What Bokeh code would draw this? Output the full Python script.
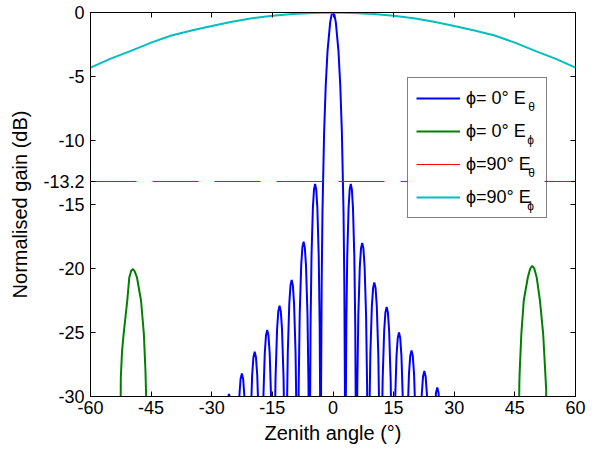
from bokeh.plotting import figure
from bokeh.models import (FixedTicker, LinearAxis, Legend, LegendItem, Label,
                          BoxAnnotation, CustomJSTickFormatter)
from bokeh.embed import file_html
from bokeh.resources import INLINE

NaN = float("nan")

# ---------------- data ----------------
x_ticks = [-60, -45, -30, -15, 0, 15, 30, 45, 60]
y_ticks = [-30, -25, -20, -15, -13.2, -10, -5, 0]

# phi = 0 deg, E_theta (blue)
blue_angle = [
    -27.3, -27.174, -27.017, -26.749, -26.355, -26.04, -25.725, -25.41, -25.095, -24.701, -24.434, -24.276,
    -24.15, -24.022, -23.862, -23.59, -23.19, -22.87, -22.55, -22.23, -21.91, -21.51, -21.238, -21.078,
    -20.95, -20.824, -20.667, -20.399, -20.005, -19.69, -19.375, -19.06, -18.745, -18.351, -18.084, -17.926,
    -17.8, -17.678, -17.526, -17.266, -16.885, -16.58, -16.275, -15.97, -15.665, -15.284, -15.025, -14.872,
    -14.75, -14.628, -14.476, -14.216, -13.835, -13.53, -13.225, -12.92, -12.615, -12.234, -11.975, -11.822,
    -11.7, -11.582, -11.435, -11.184, -10.815, -10.52, -10.225, -9.93, -9.635, -9.266, -9.016, -8.868,
    -8.75, -8.632, -8.485, -8.234, -7.865, -7.57, -7.275, -6.98, -6.685, -6.316, -6.066, -5.918,
    -5.8, -5.69, -5.553, -5.319, -4.975, -4.7, -4.425, -4.15, -3.875, -3.531, -3.297, -3.16,
    -3.05, -2.95, -2.8, -2.6, -2.2, -1.8, -1.35, -0.7, -0.35, 0.0,
    0.35, 0.7, 1.35, 1.8, 2.2, 2.6, 2.8, 2.95, 3.05,
    3.158, 3.293, 3.5225, 3.86, 4.13, 4.4, 4.67, 4.94, 5.2775, 5.507, 5.642, 5.75,
    5.868, 6.0155, 6.266, 6.635, 6.93, 7.225, 7.52, 7.815, 8.184, 8.4345, 8.582, 8.7,
    8.822, 8.9745, 9.234, 9.615, 9.92, 10.225, 10.53, 10.835, 11.216, 11.4755, 11.628, 11.75,
    11.872, 12.0245, 12.284, 12.665, 12.97, 13.275, 13.58, 13.885, 14.266, 14.5255, 14.678, 14.8,
    14.922, 15.0745, 15.334, 15.715, 16.02, 16.325, 16.63, 16.935, 17.316, 17.5755, 17.728, 17.85,
    17.976, 18.1335, 18.401, 18.795, 19.11, 19.425, 19.74, 20.055, 20.449, 20.7165, 20.874, 21.0,
    21.128, 21.288, 21.56, 21.96, 22.28, 22.6, 22.92, 23.24, 23.64, 23.912, 24.072, 24.2,
    24.328, 24.488, 24.76, 25.16, 25.48, 25.8, 26.12, 26.44, 26.84, 27.112, 27.272, 27.4,
]
blue_gain = [
    -60, -47.9, -40.9, -35.45, -31.64, -30.23, -29.8, -30.23, -31.64, -35.45, -40.9, -47.9,
    -60, -46.3, -39.3, -33.85, -30.04, -28.63, -28.2, -28.63, -30.04, -33.85, -39.3, -46.3,
    -60, -44.6, -37.6, -32.15, -28.34, -26.93, -26.5, -26.93, -28.34, -32.15, -37.6, -44.6,
    -60, -42.9, -35.9, -30.45, -26.64, -25.23, -24.8, -25.23, -26.64, -30.45, -35.9, -42.9,
    -60, -41.0, -34.0, -28.55, -24.74, -23.33, -22.9, -23.33, -24.74, -28.55, -34.0, -41.0,
    -60, -39.0, -32.0, -26.55, -22.74, -21.33, -20.9, -21.33, -22.74, -26.55, -32.0, -39.0,
    -60, -36.0, -29.0, -23.55, -19.74, -18.33, -17.9, -18.33, -19.74, -23.55, -29.0, -36.0,
    -60, -31.5, -24.5, -19.05, -15.24, -13.83, -13.4, -13.83, -15.24, -19.05, -24.5, -31.5,
    -60, -29.4, -21.1, -15.5, -9.4, -5.7, -3.0, -0.77, -0.19, 0.0,
    -0.19, -0.77, -3.0, -5.7, -9.4, -15.5, -21.1, -29.4, -60,
    -31.5, -24.5, -19.05, -15.24, -13.83, -13.4, -13.83, -15.24, -19.05, -24.5, -31.5, -60,
    -36.1, -29.1, -23.65, -19.84, -18.43, -18.0, -18.43, -19.84, -23.65, -29.1, -36.1, -60,
    -39.2, -32.2, -26.75, -22.94, -21.53, -21.1, -21.53, -22.94, -26.75, -32.2, -39.2, -60,
    -41.1, -34.1, -28.65, -24.84, -23.43, -23.0, -23.43, -24.84, -28.65, -34.1, -41.1, -60,
    -43.1, -36.1, -30.65, -26.84, -25.43, -25.0, -25.43, -26.84, -30.65, -36.1, -43.1, -60,
    -44.5, -37.5, -32.05, -28.24, -26.83, -26.4, -26.83, -28.24, -32.05, -37.5, -44.5, -60,
    -46.1, -39.1, -33.65, -29.84, -28.43, -28.0, -28.43, -29.84, -33.65, -39.1, -46.1, -60,
    -47.4, -40.4, -34.95, -31.14, -29.73, -29.3, -29.73, -31.14, -34.95, -40.4, -47.4, -60,
]

# phi = 0 deg, E_phi (green)
green_angle = [-52.7, -52.5, -52.2, -51.8, -50.9, -50.4, -49.9, -49.5, -49.1, -48.5, -47.5, -46.8, -46.4, -46.15, -46.0,
               NaN,
               45.85, 46.1, 46.2, 46.6, 47.2, 48.2, 48.8, 49.3, 49.8, 50.4, 51.2, 52.0, 52.5, 52.75, 52.95]
green_gain = [-40, -28.5, -26.5, -25.1, -22.5, -20.7, -20.15, -20.05, -20.2, -20.7, -22.5, -25.1, -28.0, -31.0, -40,
              NaN,
              -40, -29.0, -28.0, -25.1, -22.5, -20.7, -20.0, -19.8, -20.0, -20.7, -22.5, -25.1, -28.0, -29.5, -40]

# phi = 90 deg, E_theta (red, -13.2 dB level)
red_angle = [-60, 60]
red_gain = [-13.2, -13.2]

# phi = 90 deg, E_phi (cyan)
cyan_angle = [-60, -55, -50, -45, -40, -35, -30, -25, -20, -15, -10, -5, 0,
              5, 10, 15, 20, 25, 30, 35, 40, 45, 50, 55, 60]
cyan_gain = [-4.3, -3.6, -3.0, -2.35, -1.8, -1.4, -1.05, -0.72, -0.45, -0.25, -0.11, -0.03, 0.0,
             -0.03, -0.11, -0.25, -0.45, -0.72, -1.05, -1.4, -1.8, -2.35, -3.0, -3.6, -4.3]

legend_labels = ["ϕ= 0° E", "ϕ= 0° E", "ϕ=90° E", "ϕ=90° E"]
legend_subs = ["θ", "ϕ", "θ", "ϕ"]

FONT = "Liberation Sans"

# ---------------- figure ----------------
p = figure(width=596, height=449, x_range=(-60, 60), y_range=(-30, 0),
           output_backend="svg", toolbar_location=None,
           min_border_left=90, min_border_right=21, min_border_top=12, min_border_bottom=53)
p.xgrid.visible = False
p.ygrid.visible = False
p.outline_line_color = "black"
p.outline_line_width = 1
p.xaxis.visible = False
p.yaxis.visible = False

fmt = CustomJSTickFormatter(code="return String(tick);")
blank = CustomJSTickFormatter(code="return '';")

def style(ax, labels=True):
    ax.axis_line_color = "black"
    ax.major_tick_line_color = "black"
    ax.major_tick_in = 5
    ax.major_tick_out = 0
    ax.minor_tick_line_color = None
    ax.major_label_text_font = FONT
    ax.major_label_text_font_size = "18px" if labels else "0px"
    ax.major_label_text_color = "black"
    ax.axis_label_text_font = FONT
    ax.axis_label_text_font_size = "20px"
    ax.axis_label_text_font_style = "normal"
    ax.axis_label_text_color = "black"
    if not labels:
        ax.major_label_standoff = 0

xb = LinearAxis(ticker=FixedTicker(ticks=x_ticks), formatter=fmt, axis_label="Zenith angle (°)")
style(xb)
xb.major_label_standoff = 4
xb.axis_label_standoff = 5
p.add_layout(xb, "below")

yl = LinearAxis(ticker=FixedTicker(ticks=y_ticks), formatter=fmt, axis_label="Normalised gain (dB)")
style(yl)
yl.major_label_standoff = 6
yl.axis_label_standoff = 9
p.add_layout(yl, "left")

xt = LinearAxis(ticker=FixedTicker(ticks=x_ticks), formatter=blank)
style(xt, labels=False)
p.add_layout(xt, "above")

yr = LinearAxis(ticker=FixedTicker(ticks=y_ticks), formatter=blank)
style(yr, labels=False)
p.add_layout(yr, "right")

r_blue = p.line(blue_angle, blue_gain, line_color="#0000ff", line_width=2)
r_green = p.line(green_angle, green_gain, line_color="#008000", line_width=2)
r_red = p.line(red_angle, red_gain, line_color="#ff0000", line_width=1, line_dash="46 16")
r_cyan = p.line(cyan_angle, cyan_gain, line_color="#00bfbf", line_width=2)

# white backing of the legend box (screen units, relative to the frame)
p.add_layout(BoxAnnotation(left=317, right=454, bottom=178, top=318,
                           left_units="screen", right_units="screen",
                           bottom_units="screen", top_units="screen",
                           fill_color="white", fill_alpha=1.0, line_color=None))

# subscripts of the legend labels (screen units, relative to the frame)
sub_x = [441, 440, 441, 440]
sub_y = [289.5, 256.5, 223.5, 190.5]
for s, sx, sy in zip(legend_subs, sub_x, sub_y):
    p.add_layout(Label(x=sx, y=sy, x_units="screen", y_units="screen", text=s,
                       text_font=FONT, text_font_size="12px", text_color="black",
                       text_align="center", text_baseline="middle"))

rends = [r_blue, r_green, r_red, r_cyan]
items = [LegendItem(label=lab + "\u2009\u2009", renderers=[r]) for lab, r in zip(legend_labels, rends)]
legend = Legend(items=items, location=(317, 178),
                label_text_font=FONT, label_text_font_size="18px", label_text_color="black",
                glyph_width=44, glyph_height=24, label_height=24, label_standoff=6,
                spacing=9, padding=8, margin=0,
                border_line_color="black", border_line_width=1,
                background_fill_alpha=0.0)
p.add_layout(legend)

open("out.html", "w").write(file_html(p, INLINE))
